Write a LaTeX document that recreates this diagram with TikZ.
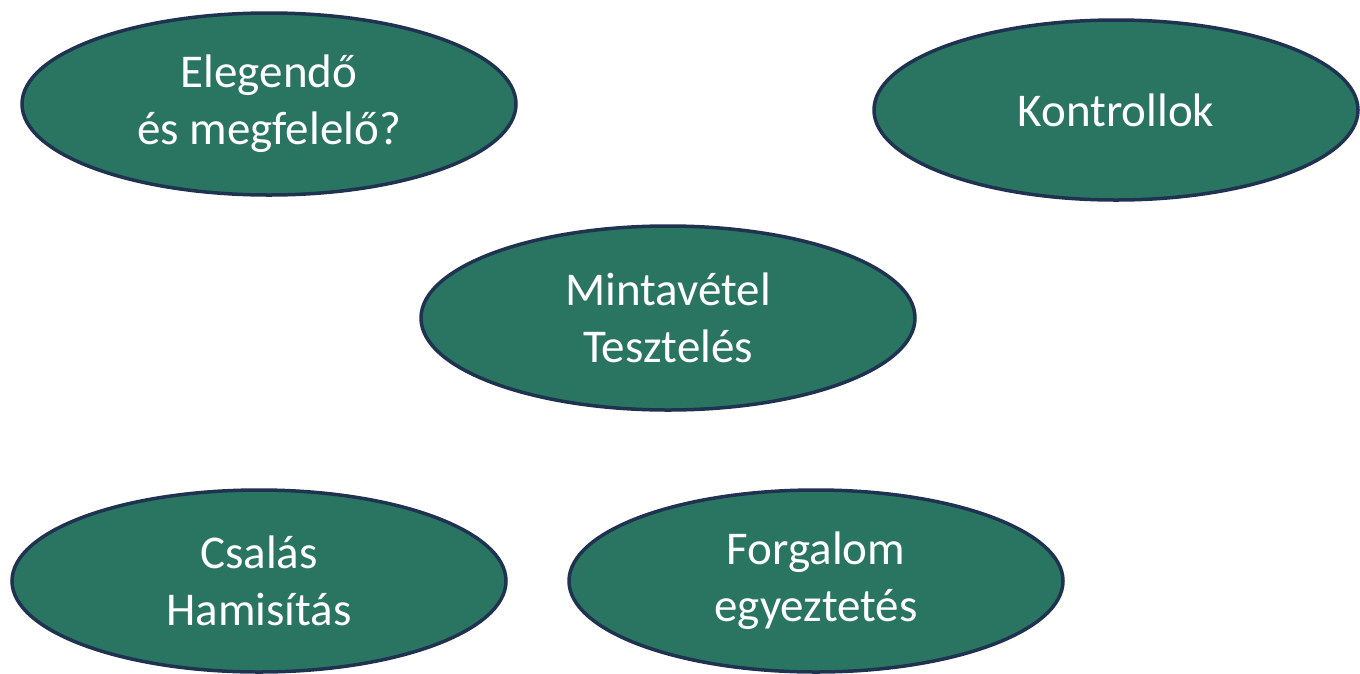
\documentclass[tikz,border=0pt]{standalone}
\usepackage{fontspec}
\setmainfont{Carlito}
\usetikzlibrary{shapes.geometric, positioning}
\definecolor{bubblegreen}{RGB}{42,117,98}
\definecolor{bubbleedge}{RGB}{31,50,80}

\begin{document}
\begin{tikzpicture}[x=1pt, y=-1pt,
    bubble/.style={ellipse, draw=bubbleedge, fill=bubblegreen, line width=3.5pt,
        text=white, align=center, inner sep=0pt,
        minimum width=494pt, minimum height=182pt,
        font=\fontsize{47}{57}\selectfont}]
            \useasboundingbox (0,0) rectangle (1360,673);
            \node[bubble] (enough) at (269,104) {Elegendő\\és megfelelő?};
            \node[bubble, minimum width=484pt, minimum height=180pt] (controls) at (1116,110) {Kontrollok};
            \node[bubble, minimum height=184pt] (sampling) at (668,318) {Mintavétel\\Tesztelés};
            \node[bubble] (fraud) at (259,581) {Csalás\\Hamisítás};
            \node[bubble] (turnover) at (816,581) {Forgalom\\egyeztetés};
        \end{tikzpicture}
\end{document}
